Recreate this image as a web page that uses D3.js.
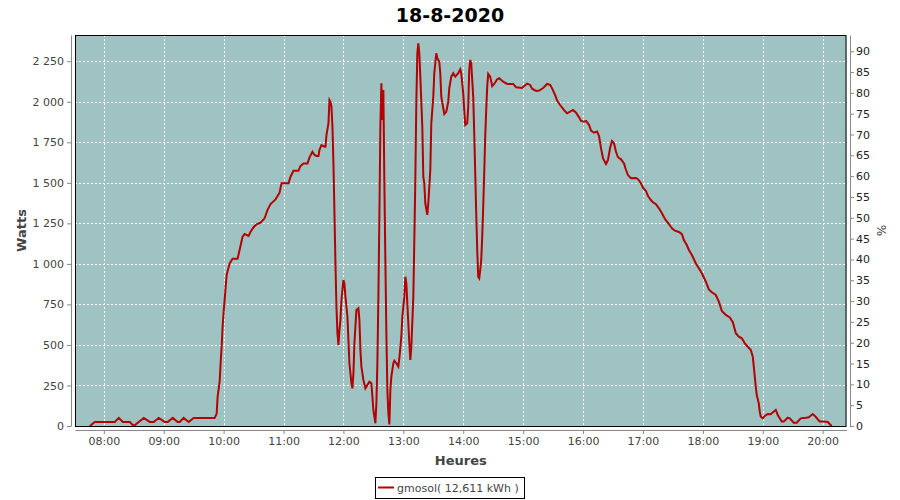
<!DOCTYPE html>
<html><head><meta charset="utf-8">
<script src="https://cdn.jsdelivr.net/npm/d3@7"></script>
<style>
body{margin:0;background:#fff}
svg{display:block;font-family:"DejaVu Sans",sans-serif}
</style>
</head><body>
<svg id="c" width="900" height="500"></svg>
<script>
const chartTitle = "18-8-2020";
const xTitle = "Heures";
const yTitle = "Watts";
const y2Title = "%";
const legendLabel = "gmosol( 12,611 kWh )";

const times = ["07:46","07:51","08:11","08:15","08:19","08:26","08:30","08:40","08:46","08:50","08:55","09:01","09:04","09:09","09:14","09:16","09:20","09:25","09:30","09:51","09:53","09:54","09:56","09:57","09:58","09:59","10:00","10:01","10:03","10:06","10:09","10:14","10:16","10:19","10:21","10:25","10:27","10:30","10:33","10:37","10:41","10:44","10:47","10:52","10:56","10:58","11:05","11:07","11:10","11:15","11:17","11:20","11:24","11:26","11:29","11:31","11:33","11:35","11:36","11:38","11:41","11:42","11:43","11:45","11:46","11:47","11:48","11:49","11:50","11:51","11:52","11:53","11:54","11:55","11:56","11:57","11:58","12:00","12:01","12:02","12:04","12:05","12:06","12:08","12:09","12:10","12:11","12:13","12:15","12:16","12:17","12:18","12:20","12:22","12:24","12:26","12:28","12:29","12:30","12:32","12:33","12:34","12:35","12:36","12:37","12:38","12:39","12:40","12:41","12:42","12:43","12:44","12:45","12:46","12:47","12:48","12:50","12:51","12:53","12:55","12:56","12:58","12:59","13:01","13:02","13:03","13:04","13:06","13:07","13:08","13:10","13:11","13:12","13:13","13:14","13:15","13:16","13:17","13:19","13:20","13:21","13:22","13:24","13:25","13:27","13:28","13:30","13:31","13:33","13:34","13:36","13:37","13:38","13:40","13:41","13:43","13:45","13:46","13:48","13:50","13:52","13:55","13:57","13:58","14:00","14:01","14:02","14:04","14:05","14:06","14:07","14:08","14:10","14:11","14:12","14:13","14:14","14:15","14:16","14:17","14:18","14:19","14:20","14:21","14:22","14:23","14:24","14:25","14:27","14:29","14:31","14:34","14:36","14:40","14:44","14:50","14:53","14:59","15:01","15:04","15:07","15:09","15:13","15:16","15:20","15:24","15:27","15:29","15:32","15:34","15:37","15:41","15:44","15:47","15:50","15:53","15:56","15:58","16:01","16:03","16:06","16:08","16:11","16:14","16:16","16:18","16:20","16:23","16:25","16:27","16:29","16:31","16:33","16:35","16:38","16:41","16:43","16:45","16:48","16:53","16:55","16:58","17:00","17:03","17:05","17:08","17:10","17:13","17:16","17:19","17:22","17:26","17:29","17:32","17:36","17:39","17:41","17:44","17:46","17:49","17:53","17:56","17:59","18:03","18:06","18:09","18:13","18:16","18:19","18:23","18:27","18:30","18:33","18:36","18:39","18:42","18:45","18:48","18:50","18:51","18:52","18:53","18:54","18:56","18:57","18:58","19:00","19:02","19:05","19:08","19:10","19:13","19:15","19:19","19:21","19:25","19:27","19:31","19:34","19:38","19:43","19:46","19:50","19:53","19:57","20:01","20:05","20:09"];

const watts = [0,25,25,50,25,25,0,50,25,25,50,25,25,50,25,25,50,25,50,50,75,181,273,389,489,613,705,777,931,1003,1032,1032,1086,1168,1184,1172,1199,1226,1244,1254,1281,1333,1369,1398,1439,1497,1497,1538,1575,1575,1604,1620,1620,1657,1692,1672,1666,1666,1703,1733,1723,1723,1795,1867,2011,2000,1970,1846,1620,1312,1003,736,572,500,592,654,777,901,880,798,674,530,387,263,232,325,510,716,726,654,469,366,284,232,253,273,263,181,99,17,140,387,798,1291,1850,2114,1888,2073,1497,1024,572,222,78,10,222,304,387,403,387,366,418,551,674,798,921,880,757,510,407,489,798,1147,1518,1990,2299,2361,2299,2155,1846,1538,1497,1374,1302,1374,1579,1867,2031,2176,2299,2270,2247,2176,2031,1960,1925,1939,2001,2083,2155,2176,2155,2176,2200,2176,2052,1949,1857,1867,1970,2196,2258,2237,2031,1806,1559,1312,1086,921,911,962,1024,1168,1353,1559,1785,1949,2093,2172,2155,2097,2110,2139,2145,2124,2110,2110,2089,2085,2097,2112,2104,2081,2067,2069,2085,2110,2105,2083,2042,2007,1980,1949,1929,1939,1949,1933,1904,1882,1877,1882,1857,1822,1809,1816,1789,1713,1651,1616,1641,1713,1758,1744,1692,1658,1645,1620,1579,1548,1528,1530,1522,1497,1470,1450,1419,1394,1380,1368,1343,1312,1277,1246,1220,1205,1197,1184,1147,1115,1086,1055,1003,973,942,890,843,825,808,767,710,685,670,640,572,551,541,510,489,469,428,366,304,242,191,140,88,57,47,62,74,72,84,99,68,27,27,51,47,20,20,47,51,54,74,57,27,27,25,0];

const hourTicks = ["08:00","09:00","10:00","11:00","12:00","13:00","14:00","15:00","16:00","17:00","18:00","19:00","20:00"];
const wattTicks = [0,250,500,750,1000,1250,1500,1750,2000,2250];
const pctTicks = [0,5,10,15,20,25,30,35,40,45,50,55,60,65,70,75,80,85,90];
const wattMax = 2412;
const pctMax = 93.9;

const parse = d3.timeParse("%H:%M");
const data = times.map((t,i)=>({t:parse(t), v:watts[i]}));
const ext = d3.extent(data, d=>d.t);
const span = ext[1]-ext[0];

const L=75, R=846.5, T=35, B=426;
const x = d3.scaleTime().domain([new Date(+ext[0]-span*0.02), new Date(+ext[1]+span*0.02)]).range([L,R]);
const y = d3.scaleLinear().domain([0,wattMax]).range([B,T]);
const y2 = d3.scaleLinear().domain([0,pctMax]).range([B,T]);

const svg = d3.select("#c");
const bg = "#9fc3c2", red = "#b40000", axisGray = "#888", labelGray = "#444";

svg.append("rect").attr("x",L).attr("y",T).attr("width",R-L).attr("height",B-T).attr("fill",bg);

// grid
const g = svg.append("g").attr("stroke","#fff").attr("stroke-dasharray","2,2").attr("stroke-width",1);
g.selectAll(".gv").data(hourTicks.map(parse)).join("line")
  .attr("x1",d=>Math.round(x(d))+0.5).attr("x2",d=>Math.round(x(d))+0.5).attr("y1",T).attr("y2",B);
g.selectAll(".gh").data(wattTicks.slice(1)).join("line")
  .attr("y1",d=>Math.round(y(d))+0.5).attr("y2",d=>Math.round(y(d))+0.5).attr("x1",L).attr("x2",R);

// line
const line = d3.line().x(d=>x(d.t)).y(d=>y(d.v));
svg.append("path").datum(data).attr("d",line).attr("fill","none").attr("stroke",red).attr("stroke-width",2).attr("stroke-linejoin","miter");

// outline
svg.append("rect").attr("x",L+0.5).attr("y",T+0.5).attr("width",R-L-1).attr("height",B-T).attr("fill","none").attr("stroke","#000");

const fmt = d => d3.format(",")(d).replace(/,/g," ");
function styleAxis(sel, col){
  sel.select(".domain").attr("stroke",axisGray);
  sel.selectAll(".tick line").attr("stroke",axisGray);
  sel.selectAll(".tick text").attr("fill",col).attr("font-size",11).attr("font-family","DejaVu Sans, sans-serif");
}
const ax1 = svg.append("g").attr("transform","translate(71,0)")
  .call(d3.axisLeft(y).tickValues(wattTicks).tickFormat(fmt).tickSize(4).tickSizeOuter(0).tickPadding(3));
styleAxis(ax1, labelGray);
const ax2 = svg.append("g").attr("transform","translate(850,0)")
  .call(d3.axisRight(y2).tickValues(pctTicks).tickSize(4).tickSizeOuter(0).tickPadding(2));
styleAxis(ax2, "#222");
const ax3 = svg.append("g").attr("transform","translate(0,430)")
  .call(d3.axisBottom(x).tickValues(hourTicks.map(parse)).tickFormat(d3.timeFormat("%H:%M")).tickSize(4).tickSizeOuter(0).tickPadding(3));
styleAxis(ax3, labelGray);

// titles
svg.append("text").attr("x",450).attr("y",22).attr("text-anchor","middle").attr("font-size",19).attr("font-weight","bold").attr("fill","#000").text(chartTitle);
svg.append("text").attr("x",(L+R)/2).attr("y",465).attr("text-anchor","middle").attr("font-size",13).attr("font-weight","bold").attr("fill",labelGray).text(xTitle);
svg.append("text").attr("transform",`translate(26,${(T+B)/2}) rotate(-90)`).attr("text-anchor","middle").attr("font-size",13).attr("font-weight","bold").attr("fill",labelGray).text(yTitle);
svg.append("text").attr("transform",`translate(877,${(T+B)/2}) rotate(90)`).attr("text-anchor","middle").attr("font-size",12).attr("fill",labelGray).text(y2Title);

// legend
const lg = svg.append("g");
lg.append("rect").attr("x",375.5).attr("y",477.5).attr("width",149).attr("height",21).attr("fill","#fff").attr("stroke","#000");
lg.append("line").attr("x1",378).attr("x2",394).attr("y1",487.5).attr("y2",487.5).attr("stroke",red).attr("stroke-width",2);
lg.append("text").attr("x",397).attr("y",492).attr("font-size",11).attr("fill",labelGray).text(legendLabel);
</script>
</body></html>
